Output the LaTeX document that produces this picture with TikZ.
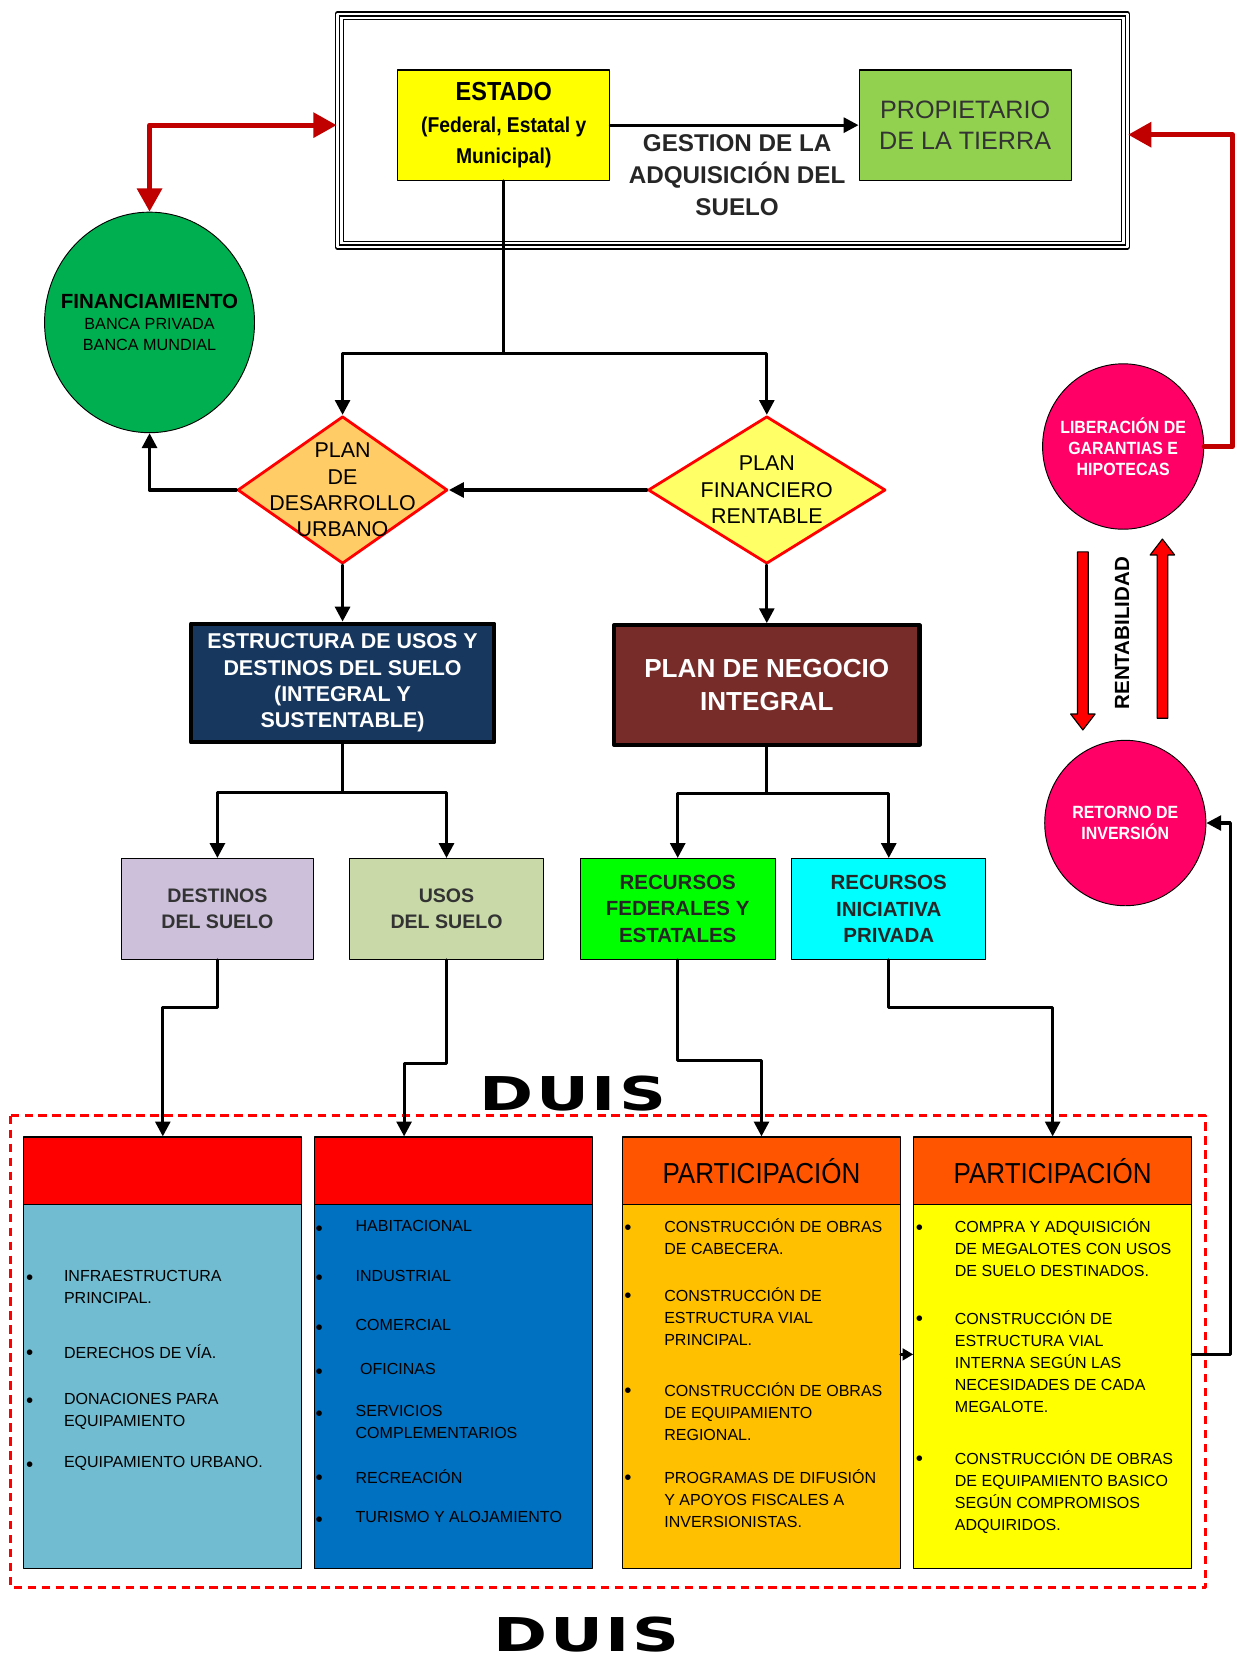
\documentclass[tikz,border=0pt]{standalone}
\usepackage{fontspec}
\setmainfont{Liberation Sans}
\newfontfamily\estrecha[FakeStretch=0.9]{Liberation Sans}
\newfontfamily\ancha[FakeStretch=1.4,LetterSpace=6]{DejaVu Sans}
\usetikzlibrary{arrows.meta,shapes.geometric,shapes.arrows}
\definecolor{rojoosc}{HTML}{C00000}
\definecolor{rojo}{HTML}{FF0000}
\definecolor{amarillo}{HTML}{FFFF00}
\definecolor{verdeprop}{HTML}{92D050}
\definecolor{verdefin}{HTML}{00B050}
\definecolor{naranjapd}{HTML}{FFCC66}
\definecolor{amarillopf}{HTML}{FFFF66}
\definecolor{azulest}{HTML}{17375E}
\definecolor{cafe}{HTML}{772C2A}
\definecolor{lila}{HTML}{CCC0DA}
\definecolor{olivo}{HTML}{C9DAA8}
\definecolor{verdelim}{HTML}{00FF00}
\definecolor{cian}{HTML}{00FFFF}
\definecolor{rosa}{HTML}{FF0066}
\definecolor{azulclaro}{HTML}{72BCD1}
\definecolor{azulrey}{HTML}{0070C0}
\definecolor{ambar}{HTML}{FFC000}
\definecolor{naranjah}{HTML}{FF5500}
\newcommand{\tam}[2]{\fontsize{#1}{#2}\selectfont}
\begin{document}
\begin{tikzpicture}[x=0.02cm, y=-0.02cm, line join=round, line cap=round,
  >={Triangle[length=0.28cm,width=0.28cm]},
  caja/.style={draw, line width=0.6pt, align=center, inner sep=0pt},
  gruesa/.style={caja, line width=2.2pt, text=white},
  rombo/.style={diamond, draw=red, line width=1.5pt, inner sep=0pt},
  bola/.style={ellipse, draw, line width=0.5pt, inner sep=0pt},
  linea/.style={line width=1.7pt},
  flecha/.style={linea, ->},
  roja/.style={draw=rojoosc, line width=2.8pt, -{Triangle[length=0.44cm,width=0.46cm]}},
  flechon/.style={single arrow, draw, fill=red, line width=0.6pt, inner sep=0.09cm, single arrow head extend=0.13cm, single arrow tip angle=75},
  punto/.style={inner sep=0pt, font=\tam{11}{12}},
  item/.style={anchor=north west, inner sep=0pt, align=left, font=\tam{8.6}{11.8}},
  encab/.style={caja, minimum height=1.28cm, font=\estrecha\tam{15.5}{18}}
]
\useasboundingbox (0,0) rectangle (1166,1568);

% marco superior
\node[draw, line width=0.8pt, double=white, double distance=1.4pt, minimum width=14.9cm, minimum height=4.4cm] (marco) at (690.5,123) {};
\draw[line width=0.4pt] ([shift={(6,6)}]marco.north west) rectangle ([shift={(-6,-6)}]marco.south east);
\node[caja, fill=amarillo, minimum width=4cm, minimum height=2.08cm, font=\estrecha\bfseries\tam{11.5}{17}] (est) at (475,118) {{\tam{14}{17}ESTADO}\\(Federal, Estatal y\\Municipal)};
\node[caja, fill=verdeprop, minimum width=4cm, minimum height=2.08cm, text=black!80, font=\tam{13.5}{16.5}] (prop) at (910,118) {PROPIETARIO\\DE LA TIERRA};
\draw[flecha] (est) -- (prop);
\node[align=center, font=\bfseries\tam{13}{17}, text=black!85] (gest) at (695,165) {GESTION DE LA\\ADQUISICIÓN DEL\\SUELO};

% financiamiento y planes
\node[bola, fill=verdefin, minimum width=3.96cm, minimum height=4.16cm, label={[name=fint, align=center, font=\tam{8.7}{11.5}]center:{\bfseries\tam{11}{13}FINANCIAMIENTO}\\BANCA PRIVADA\\BANCA MUNDIAL}] (fin) at (141,304) {};
\node[rombo, fill=naranjapd, minimum width=3.96cm, minimum height=2.78cm, label={[name=pdut, align=center, font=\tam{11.5}{14.2}]center:PLAN\\DE\\DESARROLLO\\URBANO}] (pdu) at (323,462) {};
\node[rombo, fill=amarillopf, minimum width=4.48cm, minimum height=2.78cm, label={[name=pfrt, align=center, font=\tam{11.5}{14.2}]center:PLAN\\FINANCIERO\\RENTABLE}] (pfr) at (723,462) {};
\coordinate (ramal1) at (475,333);
\draw[linea] (est.south) -- (ramal1);
\draw[flecha] (ramal1) -| (pdu.north);
\draw[flecha] (ramal1) -| (pfr.north);
\draw[flecha] (pfr.west) -- (pdu.east);
\draw[flecha] (pdu.west) -| (fin.south);
\draw[roja, {Triangle[length=0.44cm,width=0.46cm]}-{Triangle[length=0.44cm,width=0.46cm]}] (fin.north) |- (marco.west |- est.center);

% estructura y plan de negocio
\node[gruesa, fill=azulest, minimum width=5.72cm, minimum height=2.24cm, font=\bfseries\tam{11.5}{14.2}] (estr) at (323,644) {ESTRUCTURA DE USOS Y\\DESTINOS DEL SUELO\\(INTEGRAL Y\\SUSTENTABLE)};
\node[gruesa, fill=cafe, minimum width=5.76cm, minimum height=2.26cm, font=\bfseries\tam{14}{18}] (pni) at (723,646) {PLAN DE NEGOCIO\\INTEGRAL};
\draw[flecha] (pdu.south) -- (estr.north);
\draw[flecha] (pfr.south) -- (pni.north);

\node[caja, fill=lila, minimum width=3.62cm, minimum height=1.9cm, text=black!80, font=\bfseries\tam{10.5}{14.2}] (dest) at (205,857) {DESTINOS\\DEL SUELO};
\node[caja, fill=olivo, minimum width=3.66cm, minimum height=1.9cm, text=black!80, font=\bfseries\tam{10.5}{14.2}] (usos) at (421,857) {USOS\\DEL SUELO};
\node[caja, fill=verdelim, minimum width=3.68cm, minimum height=1.9cm, text=black!85, font=\bfseries\tam{11}{14.2}] (rfe) at (639,857) {RECURSOS\\FEDERALES Y\\ESTATALES};
\node[caja, fill=cian, minimum width=3.66cm, minimum height=1.9cm, text=black!85, font=\bfseries\tam{11}{14.2}] (rip) at (838,857) {RECURSOS\\INICIATIVA\\PRIVADA};
\coordinate (ramal2) at (323,747);
\draw[linea] (estr.south) -- (ramal2);
\draw[flecha] (ramal2) -| (dest.north);
\draw[flecha] (ramal2) -| (usos.north);
\coordinate (ramal3) at (723,748);
\draw[linea] (pni.south) -- (ramal3);
\draw[flecha] (ramal3) -| (rfe.north);
\draw[flecha] (ramal3) -| (rip.north);

% DUIS
\draw[red, line width=1.6pt, line cap=butt, dash pattern=on 4.5pt off 3pt] (10,1052) rectangle (1137,1497);
\foreach \n/\x/\cab/\cue/\tit in {1/153.5/rojo/azulclaro/{}, 2/427.5/rojo/azulrey/{}, 3/718/naranjah/ambar/PARTICIPACIÓN, 4/992.5/naranjah/amarillo/PARTICIPACIÓN}{
  \node[encab, fill=\cab, minimum width=5.24cm] (cab\n) at (\x,1104) {\tit};
  \node[caja, fill=\cue, minimum width=5.24cm, minimum height=6.86cm] (cue\n) at (\x,1307.5) {};
}
\draw[flecha] (dest.south) -- ++(0,45) -| (cab1.north);
\draw[flecha] (usos.south) -- ++(0,98) -| ([xshift=-0.93cm]cab2.north);
\draw[flecha] (rfe.south) -- ++(0,95) -| (cab3.north);
\draw[flecha] (rip.south) -- ++(0,45) -| (cab4.north);
\node[font=\ancha\bfseries\tam{25}{28}] (duis1) at (540,1031) {DUIS};
\node[font=\ancha\bfseries\tam{25}{28}] (duis2) at (553,1541) {DUIS};

% listas
\foreach \y/\txt in {1205/{INFRAESTRUCTURA\\PRINCIPAL.}, 1275/{DERECHOS DE VÍA.}, 1321/{DONACIONES PARA\\EQUIPAMIENTO}, 1381/{EQUIPAMIENTO URBANO.}}{
  \node[punto] (p1\y) at (28,\y+2) {\textbullet};
  \node[item] (t1\y) at (60,\y-8) {\txt};
}
\foreach \y/\txt in {1158/{HABITACIONAL}, 1205/{INDUSTRIAL}, 1252/{COMERCIAL}, 1293/{\ OFICINAS}, 1333/{SERVICIOS\\COMPLEMENTARIOS}, 1393/{RECREACIÓN}, 1433/{TURISMO Y ALOJAMIENTO}}{
  \node[punto] (p2\y) at (301,\y+2) {\textbullet};
  \node[item] (t2\y) at (335,\y-8) {\txt};
}
\foreach \y/\txt in {1157/{CONSTRUCCIÓN DE OBRAS\\DE CABECERA.}, 1222/{CONSTRUCCIÓN DE\\ESTRUCTURA VIAL\\PRINCIPAL.}, 1311/{CONSTRUCCIÓN DE OBRAS\\DE EQUIPAMIENTO\\REGIONAL.}, 1393/{PROGRAMAS DE DIFUSIÓN\\Y APOYOS FISCALES A\\INVERSIONISTAS.}}{
  \node[punto] (p3\y) at (592,\y+2) {\textbullet};
  \node[item] (t3\y) at (626,\y-8) {\txt};
}
\foreach \y/\txt in {1157/{COMPRA Y ADQUISICIÓN\\DE MEGALOTES CON USOS\\DE SUELO DESTINADOS.}, 1243/{CONSTRUCCIÓN DE\\ESTRUCTURA VIAL\\INTERNA SEGÚN LAS\\NECESIDADES DE CADA\\MEGALOTE.}, 1375/{CONSTRUCCIÓN DE OBRAS\\DE EQUIPAMIENTO BASICO\\SEGÚN COMPROMISOS\\ADQUIRIDOS.}}{
  \node[punto] (p4\y) at (867,\y+2) {\textbullet};
  \node[item] (t4\y) at (900,\y-8) {\txt};
}
\draw[linea, -{Triangle[length=0.2cm,width=0.22cm]}] (cue3.east |- 0,1277) -- (cue4.west |- 0,1277);

% retorno
\node[bola, fill=rosa, minimum width=3.04cm, minimum height=3.12cm, label={[name=libt, align=center, text=white, font=\estrecha\bfseries\tam{9.5}{11.4}]center:LIBERACIÓN DE\\GARANTIAS E\\HIPOTECAS}] (lib) at (1059,421) {};
\node[bola, fill=rosa, minimum width=3.04cm, minimum height=3.12cm, label={[name=rett, align=center, text=white, font=\estrecha\bfseries\tam{9.5}{11.4}]center:RETORNO DE\\INVERSIÓN}] (ret) at (1061,776) {};
\coordinate (esqlib) at (1162,127);
\draw[roja] (lib.east) -| (esqlib) -- (marco.east |- esqlib);
\coordinate (esqret) at (1160,776);
\draw[flecha] (cue4.east |- 0,1277) -| (esqret) -- (ret.east);
\node[flechon, shape border rotate=270, minimum height=3.36cm] (baja) at (1021,601) {};
\node[flechon, shape border rotate=90, minimum height=3.38cm] (sube) at (1096,596) {};
\node[rotate=90, font=\bfseries\tam{11}{13}] (rent) at (1058,597) {RENTABILIDAD};
\end{tikzpicture}
\end{document}
